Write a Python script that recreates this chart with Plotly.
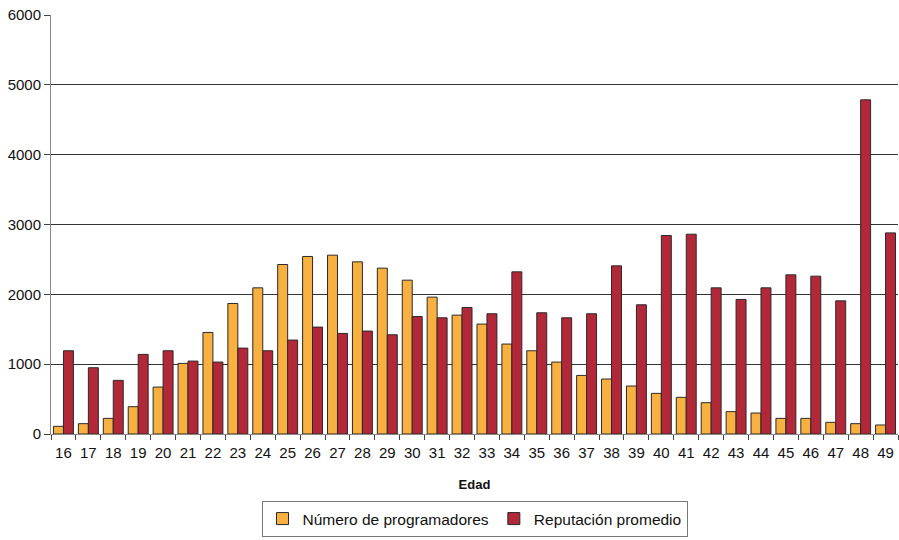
import plotly.graph_objects as go

edades = [str(a) for a in range(16, 50)]
programadores = [110, 148, 224, 391, 672, 1011, 1454, 1869, 2093, 2427,
                 2542, 2561, 2465, 2375, 2203, 1960, 1702, 1574, 1288, 1192,
                 1030, 839, 787, 687, 582, 525, 448, 320, 300, 224,
                 224, 167, 148, 129]
reputacion = [1192, 949, 768, 1140, 1192, 1044, 1030, 1230, 1192, 1345,
              1531, 1440, 1474, 1421, 1683, 1664, 1812, 1722, 2322, 1736,
              1664, 1722, 2408, 1850, 2842, 2861, 2093, 1927, 2093, 2279,
              2260, 1907, 4785, 2880]

font = "Liberation Sans, Arial, sans-serif"

fig = go.Figure()
fig.add_trace(go.Bar(x=edades, y=programadores, name="Número de programadores",
                     marker=dict(color="#F8B040", line=dict(color="#2a2a2a", width=1))))
fig.add_trace(go.Bar(x=edades, y=reputacion, name="Reputación promedio",
                     marker=dict(color="#B22838", line=dict(color="#2a2a2a", width=1))))

fig.update_layout(
    width=899, height=540,
    margin=dict(l=51, r=1, t=15, b=106),
    paper_bgcolor="white", plot_bgcolor="white",
    barmode="group", bargap=0.2, bargroupgap=0,
    font=dict(family=font, size=15, color="#111"),
    showlegend=True,
    legend=dict(orientation="h", x=0.5, xanchor="center", y=-103 / 419, yanchor="bottom",
                bordercolor="#777", borderwidth=1, font=dict(size=15.5),
                itemwidth=30, traceorder="normal"),
    xaxis=dict(
        type="category", showline=True, linecolor="#888", linewidth=1,
        ticks="outside", ticklen=5, tickcolor="#444", tickson="boundaries",
        tickfont=dict(size=15), ticklabelstandoff=5, tickangle=0,
        title=dict(text="<b>Edad</b>", font=dict(size=13), standoff=19),
    ),
    yaxis=dict(
        range=[0, 6000], dtick=1000, showgrid=True, gridcolor="#333", gridwidth=1,
        showline=True, linecolor="#888", linewidth=1,
        ticks="outside", ticklen=6, tickcolor="#444",
        tickfont=dict(size=15), zeroline=False,
    ),
)

fig.write_html("out.html")
